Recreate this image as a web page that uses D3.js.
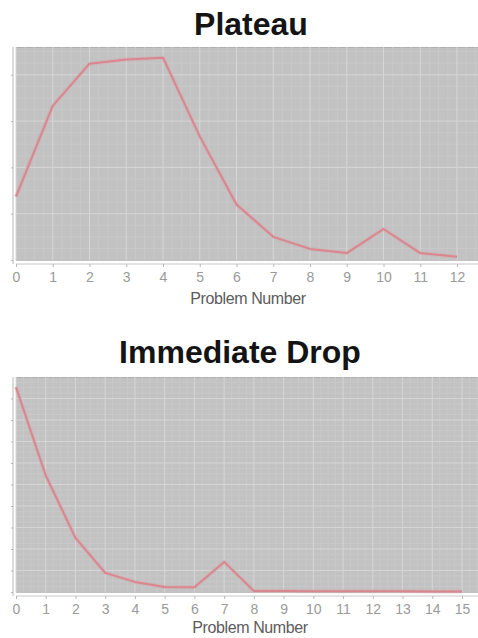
<!DOCTYPE html>
<html>
<head>
<meta charset="utf-8">
<script src="https://cdn.jsdelivr.net/npm/d3@7"></script>
<style>
  html, body { margin: 0; padding: 0; background: #ffffff; }
  svg { display: block; }
</style>
</head>
<body>
<svg id="chart" width="478" height="638"></svg>
<script>
// ---- data ----
const plateauTitle = "Plateau";
const dropTitle = "Immediate Drop";
const xAxisLabel = "Problem Number";

const plateauProblems = [0, 1, 2, 3, 4, 5, 6, 7, 8, 9, 10, 11, 12];
const plateauValues   = [1.37, 3.33, 4.24, 4.33, 4.37, 2.67, 1.20, 0.50, 0.24, 0.15, 0.67, 0.15, 0.07];
const plateauYTicks   = [0, 1, 2, 3, 4];

const dropProblems = [0, 1, 2, 3, 4, 5, 6, 7, 8, 9, 10, 11, 12, 13, 14, 15];
const dropValues   = [9.53, 5.42, 2.52, 0.89, 0.47, 0.23, 0.22, 1.40, 0.05, 0.05, 0.04, 0.04, 0.03, 0.03, 0.02, 0.02];
const dropYTicks   = [0, 1, 2, 3, 4, 5, 6, 7, 8, 9];

// ---- layout / style ----
const svg = d3.select("#chart");
const BG = "#c2c2c2", GRID = "#d6d6d6", MINOR = "#c8c8c8", LINE = "#d8878f";

function panel(opt) {
  const g = svg.append("g");
  const x = d3.scaleLinear().domain(opt.xDomain).range([opt.left, opt.xEndPx]);
  const y = d3.scaleLinear().domain(opt.yDomain).range([opt.bottom, opt.top]);

  g.append("text")
    .attr("x", opt.titleX).attr("y", opt.titleY)
    .attr("text-anchor", "middle")
    .attr("font-family", "'Liberation Sans', Arial, sans-serif")
    .attr("font-weight", "bold").attr("font-size", 32)
    .attr("fill", "#141414")
    .text(opt.title);

  g.append("rect")
    .attr("x", opt.left).attr("y", opt.top)
    .attr("width", opt.right - opt.left).attr("height", opt.bottom - opt.top + 1)
    .attr("fill", BG);
  g.append("line")
    .attr("x1", opt.left).attr("x2", opt.right)
    .attr("y1", opt.top + 0.5).attr("y2", opt.top + 0.5)
    .attr("stroke", "#b0b0b0").attr("stroke-width", 1);

  const xMax = x.invert(opt.right);
  const minorX = d3.range(opt.xDomain[0], xMax, 0.25).filter(v => Math.abs(v - Math.round(v)) > 1e-6);
  g.selectAll(".mx").data(minorX).join("line")
    .attr("x1", d => x(d)).attr("x2", d => x(d))
    .attr("y1", opt.top).attr("y2", opt.bottom)
    .attr("stroke", MINOR).attr("stroke-width", 1);
  const yStep = opt.yTicks[1] - opt.yTicks[0];
  const minorY = d3.range(0, opt.yDomain[1], yStep / 4).filter(v => Math.abs(v / yStep - Math.round(v / yStep)) > 1e-6);
  g.selectAll(".my").data(minorY).join("line")
    .attr("x1", opt.left).attr("x2", opt.right)
    .attr("y1", d => y(d)).attr("y2", d => y(d))
    .attr("stroke", MINOR).attr("stroke-width", 1);

  const majorX = d3.range(Math.ceil(opt.xDomain[0]), xMax + 0.001, 1);
  g.selectAll(".gx").data(majorX).join("line")
    .attr("x1", d => x(d)).attr("x2", d => x(d))
    .attr("y1", opt.top).attr("y2", opt.bottom)
    .attr("stroke", GRID).attr("stroke-width", 1);
  g.selectAll(".gy").data(opt.yTicks.slice(1)).join("line")
    .attr("x1", opt.left).attr("x2", opt.right)
    .attr("y1", d => y(d)).attr("y2", d => y(d))
    .attr("stroke", GRID).attr("stroke-width", 1);

  const yAxis = d3.axisLeft(y).tickValues(opt.yTicks).tickSize(2).tickFormat("");
  const ya = g.append("g").attr("transform", `translate(${opt.left - 3},0)`).call(yAxis);
  ya.select(".domain").attr("stroke", "#b8b8b8").attr("d", `M0,${opt.top}V${opt.bottom + 4}`);
  ya.selectAll(".tick line").attr("stroke", "#b8b8b8");

  const xAxis = d3.axisBottom(x).tickValues(opt.xTicks).tickSize(3).tickPadding(5).tickFormat(d3.format("d"));
  const xa = g.append("g").attr("transform", `translate(0,${opt.bottom + 4})`).call(xAxis);
  xa.select(".domain").attr("stroke", "#c8c8c8").attr("d", `M${opt.left},0H${opt.right}`);
  xa.selectAll(".tick line").attr("stroke", "#b8b8b8");
  xa.selectAll(".tick text")
    .attr("font-family", "'Liberation Sans', Arial, sans-serif")
    .attr("font-size", 14).attr("fill", "#9a9a9a");

  g.append("text")
    .attr("x", opt.labelX).attr("y", opt.bottom + opt.labelOffset)
    .attr("text-anchor", "middle")
    .attr("font-family", "'Liberation Sans', Arial, sans-serif")
    .attr("font-size", 16).attr("fill", "#5c5c5c")
    .attr("letter-spacing", -0.4)
    .text(xAxisLabel);

  const line = d3.line().x(d => x(d[0])).y(d => y(d[1]));
  const pts = opt.xs.map((v, i) => [v, opt.ys[i]]);
  g.append("path").datum(pts)
    .attr("d", line).attr("fill", "none")
    .attr("stroke", "#d9a5aa").attr("stroke-width", 4).attr("stroke-opacity", 0.45)
    .attr("stroke-linejoin", "round");
  g.append("path").datum(pts)
    .attr("d", line).attr("fill", "none")
    .attr("stroke", LINE).attr("stroke-width", 2)
    .attr("stroke-linejoin", "round");
}

panel({
  title: plateauTitle, titleX: 251, titleY: 35,
  left: 16, right: 478, top: 47, bottom: 260,
  xDomain: [0, 12], xEndPx: 457, yDomain: [0, 4.6],
  xTicks: plateauProblems, yTicks: plateauYTicks,
  xs: plateauProblems, ys: plateauValues, labelX: 248, labelOffset: 44
});

panel({
  title: dropTitle, titleX: 240, titleY: 363,
  left: 16, right: 478, top: 377, bottom: 592,
  xDomain: [0, 15], xEndPx: 462, yDomain: [0, 10],
  xTicks: dropProblems, yTicks: dropYTicks,
  xs: dropProblems, ys: dropValues, labelX: 250, labelOffset: 41
});
</script>
</body>
</html>
